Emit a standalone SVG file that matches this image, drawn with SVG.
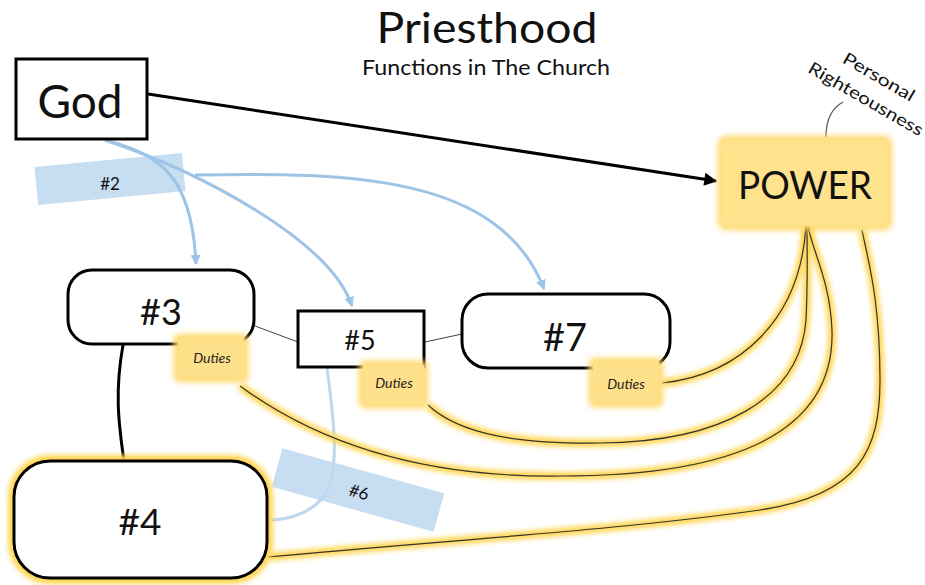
<svg xmlns="http://www.w3.org/2000/svg" width="925" height="585" viewBox="0 0 925 585">
<defs>
<style>
.t{font-family:Lato,"Open Sans","Liberation Sans",sans-serif;fill:#111;text-anchor:middle}
.node{fill:#fff;stroke:#000;stroke-width:3}
.thin{fill:none;stroke:#444;stroke-width:1}
.blue{fill:none;stroke:#9DC3E6;stroke-width:3}
.glowline{fill:none;stroke:#FFD54F;stroke-width:8;filter:url(#blur)}
.core{fill:none;stroke:#333;stroke-width:1.2}
.gold{fill:#FFE08A}
.lbl{fill:#BDD7EE;opacity:0.85}
.duties{font-family:Lato,"Open Sans","Liberation Sans",sans-serif;font-style:italic;font-size:14px;fill:#222;text-anchor:middle}
</style>
<filter id="blur" x="-20%" y="-20%" width="140%" height="140%"><feGaussianBlur stdDeviation="2.5"/></filter>
<filter id="soft" x="-20%" y="-20%" width="140%" height="140%"><feGaussianBlur stdDeviation="3"/></filter>
<marker id="ab" viewBox="0 0 10 10" refX="9" refY="5" markerWidth="10" markerHeight="10" markerUnits="userSpaceOnUse" orient="auto"><path d="M0,0 L10,5 L0,10 z" fill="#9DC3E6"/></marker>
<marker id="ak" viewBox="0 0 10 10" refX="9" refY="5" markerWidth="16" markerHeight="13" markerUnits="userSpaceOnUse" orient="auto"><path d="M0,0 L10,5 L0,10 z" fill="#000"/></marker>
</defs>
<rect width="925" height="585" fill="#fff"/>

<g id="title">
<text class="t" x="487" y="43" font-size="42" textLength="221" lengthAdjust="spacingAndGlyphs">Priesthood</text>
<text class="t" x="486" y="75" font-size="22" textLength="248" lengthAdjust="spacingAndGlyphs">Functions in The Church</text>
</g>

<g id="label-2">
<rect class="lbl" x="36" y="160" width="148" height="38" transform="rotate(-5.4 110 179)"/>
<text class="t" x="110" y="190" font-size="17">#2</text>
</g>
<g id="label-6">
<rect class="lbl" x="274" y="470" width="168" height="40" transform="rotate(15.5 358 490)"/>
<text class="t" x="359" y="498" font-size="17" transform="rotate(15.5 359 492)">#6</text>
</g>

<g id="connectors">
<line x1="148" y1="94" x2="716" y2="181" stroke="#000" stroke-width="3" marker-end="url(#ak)"/>
<path class="blue" d="M105,140 C160,155 192,175 196,264" marker-end="url(#ab)"/>
<path class="blue" d="M105,140 C200,172 330,240 352,306" marker-end="url(#ab)"/>
<path class="blue" d="M195,175 C350,172 500,175 544,289" marker-end="url(#ab)"/>
<path d="M327,368 C334,420 340,470 325,495 C310,515 285,520 268,520" fill="none" stroke="#BDD7EE" stroke-width="3"/>
<path d="M123,345 C115,390 118,420 124,461" fill="none" stroke="#000" stroke-width="3"/>
<line class="thin" x1="255" y1="326" x2="298" y2="342"/>
<line class="thin" x1="425" y1="342" x2="462" y2="334"/>
<path d="M826,137 C826,118 832,108 843,102" fill="none" stroke="#555" stroke-width="1.2"/>
<g id="power-links">
<path class="glowline" d="M240,386 C300,430 400,478 560,476 C740,476 835,430 832,330 C830,280 812,250 808,226"/>
<path class="glowline" d="M428,405 C460,435 520,444 600,443 C720,442 800,400 806,320 C808,280 807,250 807,226"/>
<path class="glowline" d="M662,383 C740,375 800,320 806,226"/>
<path class="glowline" d="M268,557 C450,540 620,530 760,510 C860,495 880,450 880,380 C880,300 868,260 862,230"/>
<path class="core" d="M240,386 C300,430 400,478 560,476 C740,476 835,430 832,330 C830,280 812,250 808,226"/>
<path class="core" d="M428,405 C460,435 520,444 600,443 C720,442 800,400 806,320 C808,280 807,250 807,226"/>
<path class="core" d="M662,383 C740,375 800,320 806,226"/>
<path class="core" d="M268,557 C450,540 620,530 760,510 C860,495 880,450 880,380 C880,300 868,260 862,230"/>
</g>
</g>

<g id="god">
<rect class="node" x="16" y="59" width="131" height="80"/>
<text class="t" x="80" y="118" font-size="46">God</text>
</g>

<g id="power">
<rect x="718" y="136" width="174" height="94" rx="8" fill="#FFD866" filter="url(#soft)"/>
<rect x="722" y="140" width="166" height="86" rx="4" fill="#FFE28C"/>
<text class="t" x="805" y="199" font-size="38" textLength="134" lengthAdjust="spacingAndGlyphs">POWER</text>
</g>

<g id="righteousness">
<text class="t" font-size="17" transform="translate(876 82) rotate(30)" textLength="80" lengthAdjust="spacingAndGlyphs">Personal</text>
<text class="t" font-size="17" transform="translate(863 104) rotate(30)" textLength="130" lengthAdjust="spacingAndGlyphs">Righteousness</text>
</g>

<g id="n3">
<rect class="node" x="68" y="270" width="186" height="74" rx="24"/>
<text class="t" x="161" y="325" font-size="36">#3</text>
</g>
<g id="n5">
<rect class="node" x="298" y="311" width="126" height="56"/>
<text class="t" x="360" y="350" font-size="27">#5</text>
</g>
<g id="n7">
<rect class="node" x="462" y="294" width="208" height="74" rx="26"/>
<text class="t" x="565" y="351" font-size="38">#7</text>
</g>
<g id="n4">
<rect x="14" y="461" width="253" height="117" rx="36" fill="none" stroke="#FFD54F" stroke-width="12" filter="url(#blur)"/>
<rect class="node" x="14" y="461" width="253" height="117" rx="36"/>
<text class="t" x="140" y="535" font-size="37">#4</text>
</g>

<g id="duties3">
<rect x="174" y="334" width="74" height="48" rx="5" fill="#FFD866" filter="url(#soft)"/>
<rect class="gold" x="178" y="338" width="66" height="40"/>
<text class="duties" x="212" y="363">Duties</text>
</g>
<g id="duties5">
<rect x="359" y="361" width="69" height="47" rx="5" fill="#FFD866" filter="url(#soft)"/>
<rect class="gold" x="363" y="365" width="61" height="39"/>
<text class="duties" x="394" y="388">Duties</text>
</g>
<g id="duties7">
<rect x="589" y="358" width="74" height="49" rx="5" fill="#FFD866" filter="url(#soft)"/>
<rect class="gold" x="593" y="362" width="66" height="41"/>
<text class="duties" x="626" y="389">Duties</text>
</g>
</svg>
